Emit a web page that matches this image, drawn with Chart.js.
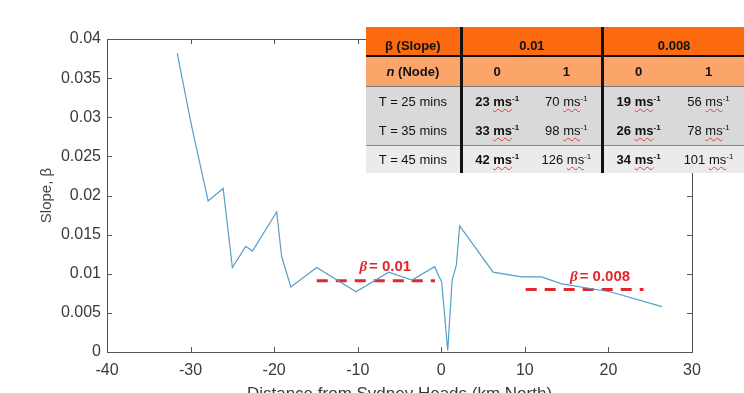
<!DOCTYPE html>
<html>
<head>
<meta charset="utf-8">
<script src="https://cdn.jsdelivr.net/npm/chart.js@4.4.0/dist/chart.umd.min.js"></script>
<style>
html, body { margin: 0; padding: 0; width: 744px; height: 393px; overflow: hidden; background: #fff; }
#wrap { position: absolute; left: 0; top: 0; width: 744px; height: 410px; }
#tbl { position: absolute; left: 366px; top: 27px; border-collapse: collapse; table-layout: fixed;
       font-family: "Liberation Sans", Arial, sans-serif; font-size: 13px; color: #111; }
#tbl th, #tbl td { padding: 0; text-align: center; white-space: nowrap; }
#tbl tr.h1 th { background: #fb6a0e; height: 26px; border-bottom: 2px solid #111; vertical-align: bottom; padding-bottom: 2px; }
#tbl tr.h2 th { background: #fba56a; height: 29px; border-bottom: 1px solid #777; }
#tbl tr.r td { background: #d9d9d9; height: 29px; }
#tbl tr.last td { background: #ebebeb; border-top: 1px solid #888; height: 27px; }
#tbl .sepL { border-left: 3px solid #111; }
#tbl .b { font-weight: bold; }
#tbl .sp { text-decoration: underline wavy #e04040; text-decoration-thickness: 1px; text-underline-offset: 2px; }
#tbl sup { font-size: 8px; }
</style>
</head>
<body>
<div id="wrap">
  <canvas id="slope-chart" width="744" height="410"></canvas>
  <table id="tbl"></table>
</div>
<script>
// slope profile along the coast
const distKm = [-31.6, -29.9, -27.9, -26.1, -25.0, -23.4, -22.6, -19.7, -19.1, -18.0, -14.9, -10.2, -6.3, -3.5,
                -0.8, 0.05, 0.77, 1.3, 1.8, 2.2, 6.2, 9.6, 12.0, 14.4, 20.2, 26.4];
const slope = [0.0382, 0.0290, 0.0193, 0.0209, 0.0108, 0.0135, 0.0129, 0.0179, 0.0122, 0.0083, 0.0108, 0.0077, 0.0102, 0.0092,
               0.0109, 0.0089, 0.0002, 0.0092, 0.0111, 0.0161, 0.0102, 0.0096, 0.0096, 0.0087, 0.0077, 0.0058];

// average slope segments
const beta01X = [-14.9, -0.75];
const beta01Y = [0.0091, 0.0091];
const beta008X = [10.1, 24.2];
const beta008Y = [0.0080, 0.0080];
const betaLabels = ["0.01", "0.008"];
const betaLabelX = [-6.7, 19.0];
const betaLabelY = [0.0109, 0.0096];

// table
const slopeHeads = ["0.01", "0.008"];
const nodeHeads = ["0", "1", "0", "1"];
const timeRows = ["T = 25 mins", "T = 35 mins", "T = 45 mins"];
const speeds = [
    [23, 70, 19, 56],
    [33, 98, 26, 78],
    [42, 126, 34, 101],
];

function toPoints(xs, ys) {
    return xs.map((x, i) => ({ x: x, y: ys[i] }));
}

function buildTable() {
    const tbl = document.getElementById("tbl");
    let html = '<colgroup><col style="width:99px"><col style="width:74px"><col style="width:74px"><col style="width:74px"><col style="width:74px"></colgroup>';
    html += '<tr class="h1"><th class="b">&beta; (Slope)</th>';
    slopeHeads.forEach(s => { html += '<th colspan="2" class="b sepL">' + s + '</th>'; });
    html += '</tr><tr class="h2"><th class="b"><i>n</i> (Node)</th>';
    nodeHeads.forEach((n, i) => { html += '<th class="b' + (i % 2 == 0 ? ' sepL' : '') + '">' + n + '</th>'; });
    html += '</tr>';
    timeRows.forEach((t, r) => {
        html += '<tr class="' + (r == timeRows.length - 1 ? 'last' : 'r') + '"><td>' + t + '</td>';
        speeds[r].forEach((v, i) => {
            let cls = (i % 2 == 0 ? 'b sepL' : '');
            html += '<td class="' + cls + '">' + v + ' <span class="sp">ms</span><sup>-1</sup></td>';
        });
        html += '</tr>';
    });
    tbl.innerHTML = html;
}

// MATLAB style box with inward ticks
const boxPlugin = {
    id: "box",
    afterDatasetsDraw(chart) {
        const ctx = chart.ctx;
        const a = chart.chartArea;
        const xs = chart.scales.x, ys = chart.scales.y;
        const tick = 5;
        ctx.save();
        ctx.strokeStyle = "#555";
        ctx.lineWidth = 1;
        ctx.strokeRect(Math.round(a.left) + 0.5, Math.round(a.top) + 0.5, Math.round(a.right - a.left), Math.round(a.bottom - a.top));
        ctx.beginPath();
        xs.ticks.forEach(t => {
            const px = Math.round(xs.getPixelForValue(t.value)) + 0.5;
            ctx.moveTo(px, a.bottom); ctx.lineTo(px, a.bottom - tick);
            ctx.moveTo(px, a.top); ctx.lineTo(px, a.top + tick);
        });
        ys.ticks.forEach(t => {
            const py = Math.round(ys.getPixelForValue(t.value)) + 0.5;
            ctx.moveTo(a.left, py); ctx.lineTo(a.left + tick, py);
            ctx.moveTo(a.right, py); ctx.lineTo(a.right - tick, py);
        });
        ctx.stroke();

        // beta labels
        ctx.fillStyle = "#e3262b";
        ctx.textBaseline = "middle";
        betaLabels.forEach((lab, i) => {
            const px = xs.getPixelForValue(betaLabelX[i]);
            const py = ys.getPixelForValue(betaLabelY[i]);
            ctx.font = "italic bold 15px 'Liberation Serif', serif";
            const w1 = ctx.measureText("\u03B2").width;
            ctx.font = "bold 15px 'Liberation Sans', Arial, sans-serif";
            const rest = "= " + lab;
            const w2 = ctx.measureText(rest).width;
            let x0 = px - (w1 + 2 + w2) / 2;
            ctx.textAlign = "left";
            ctx.font = "italic bold 15px 'Liberation Serif', serif";
            ctx.fillText("\u03B2", x0, py);
            ctx.font = "bold 15px 'Liberation Sans', Arial, sans-serif";
            ctx.fillText(rest, x0 + w1 + 2, py);
        });
        ctx.restore();
    }
};

window.onload = function () {
    buildTable();

    new Chart(document.getElementById("slope-chart"), {
        type: "line",
        data: {
            datasets: [
                {
                    label: "Slope",
                    data: toPoints(distKm, slope),
                    borderColor: "#549fca",
                    borderWidth: 1.2,
                    pointRadius: 0,
                    tension: 0,
                },
                {
                    label: "beta 0.01",
                    data: toPoints(beta01X, beta01Y),
                    borderColor: "#e3262b",
                    borderWidth: 3,
                    borderDash: [11, 8],
                    pointRadius: 0,
                },
                {
                    label: "beta 0.008",
                    data: toPoints(beta008X, beta008Y),
                    borderColor: "#e3262b",
                    borderWidth: 3,
                    borderDash: [11, 8],
                    pointRadius: 0,
                },
            ],
        },
        options: {
            responsive: false,
            animation: false,
            devicePixelRatio: 1,
            layout: { padding: { top: 39, right: 52, left: 0, bottom: 0 } },
            plugins: {
                legend: { display: false },
                tooltip: { enabled: false },
            },
            scales: {
                x: {
                    type: "linear",
                    min: -40,
                    max: 30,
                    grid: { display: false, drawTicks: false },
                    border: { display: false },
                    ticks: {
                        stepSize: 10,
                        padding: 9,
                        color: "#3a3a3a",
                        font: { family: "'Liberation Sans', Arial, sans-serif", size: 16 },
                    },
                    title: {
                        display: true,
                        text: "Distance from Sydney Heads (km North)",
                        color: "#3a3a3a",
                        font: { family: "'Liberation Sans', Arial, sans-serif", size: 17 },
                        padding: { top: 0, bottom: 5 },
                    },
                    afterFit(scale) { scale.height = 58; },
                },
                y: {
                    min: 0,
                    max: 0.04,
                    grid: { display: false, drawTicks: false },
                    border: { display: false },
                    ticks: {
                        stepSize: 0.005,
                        padding: 6,
                        color: "#3a3a3a",
                        font: { family: "'Liberation Sans', Arial, sans-serif", size: 16 },
                        callback: v => String(+v.toFixed(3)),
                    },
                    title: {
                        display: true,
                        text: "Slope, \u03B2",
                        color: "#444",
                        font: { family: "'Liberation Sans', Arial, sans-serif", size: 15 },
                        padding: { top: 38, bottom: 0 },
                    },
                    afterFit(scale) { scale.width = 107; },
                },
            },
        },
        plugins: [boxPlugin],
    });
};
</script>
</body>
</html>
